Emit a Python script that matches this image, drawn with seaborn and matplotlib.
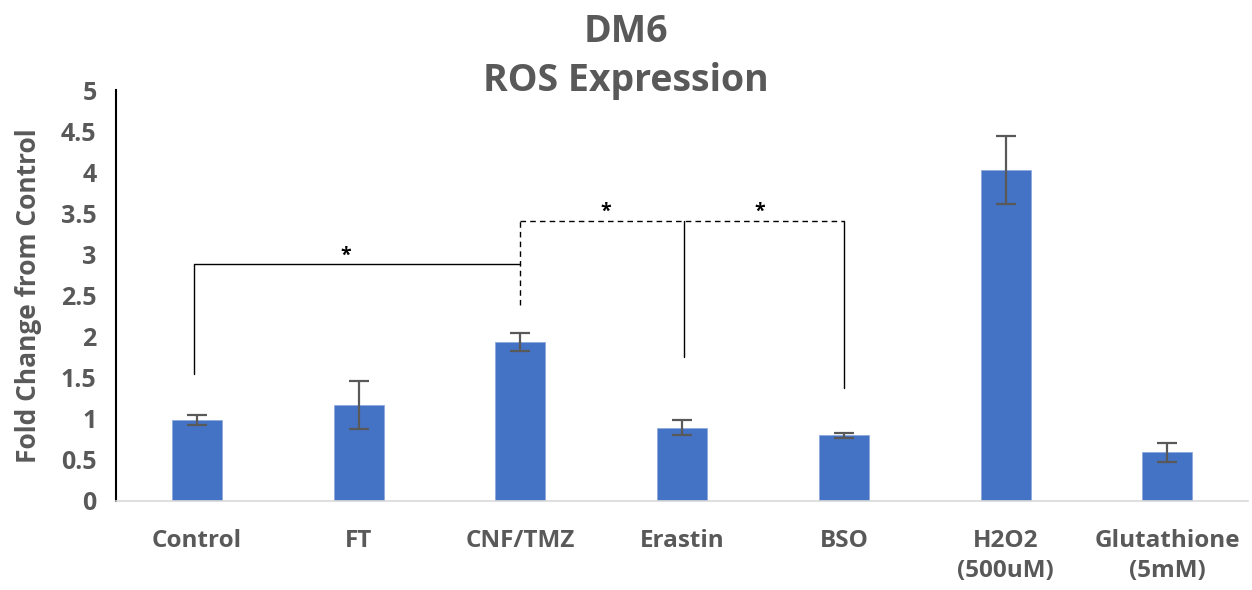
import matplotlib
matplotlib.use("Agg")
import matplotlib.pyplot as plt
import seaborn as sns
import numpy as np
import pandas as pd

categories = ["Control", "FT", "CNF/TMZ", "Erastin", "BSO", "H2O2\n(500uM)", "Glutathione\n(5mM)"]
values = [0.99, 1.17, 1.93, 0.89, 0.80, 4.03, 0.59]
errors = [0.06, 0.29, 0.11, 0.09, 0.03, 0.41, 0.12]

sns.set_style("white")
plt.rcParams['font.family'] = ['Open Sans', 'DejaVu Sans']
TXT = "#595959"

fig = plt.figure(figsize=(12.52, 5.90), dpi=100)
ax = fig.add_axes([0.0927, 0.151, 0.9043, 0.696])

df = pd.DataFrame({"cat": categories, "val": values})
sns.barplot(data=df, x="cat", y="val", color="#4472C4", saturation=1, width=0.31,
            edgecolor="#8FAADC", linewidth=0.6, ax=ax)
xs = np.arange(len(categories))
ax.errorbar(xs, values, yerr=errors, fmt="none", ecolor=TXT, elinewidth=1.6,
            capsize=7, capthick=1.6)

ax.set_xlim(-0.5, len(categories) - 0.5)
ax.set_ylim(0, 5)
ax.set_yticks(np.arange(0, 5.01, 0.5))
ax.set_yticklabels(["0", "0.5", "1", "1.5", "2", "2.5", "3", "3.5", "4", "4.5", "5"])
ax.set_xlabel("")
ax.set_ylabel("Fold Change from Control", fontsize=19, fontweight="bold", color=TXT, labelpad=14)
ax.tick_params(axis="y", length=0, labelsize=18, colors=TXT, pad=14)
ax.tick_params(axis="x", length=0, labelsize=17.5, colors=TXT, pad=20)
for lab in ax.get_xticklabels() + ax.get_yticklabels():
    lab.set_fontweight("bold")
    lab.set_linespacing(1.35)

for s in ["top", "right"]:
    ax.spines[s].set_visible(False)
ax.spines["left"].set_color("black")
ax.spines["left"].set_linewidth(1.5)
ax.spines["bottom"].set_color("#D9D9D9")
ax.spines["bottom"].set_linewidth(1.2)

fig.suptitle("DM6\nROS Expression", fontsize=27, fontweight="bold", color=TXT,
             y=0.978, linespacing=1.38)

# significance brackets
lw = 1.0
ax.plot([-0.02, -0.02, 2.0], [1.55, 2.88, 2.88], color="black", lw=lw)
ax.text(0.92, 2.98, "*", ha="center", va="center", fontsize=14, color="black", fontweight="bold")
ax.plot([2.0, 2.0], [2.39, 3.41], color="black", lw=lw, ls=(0, (4, 3)))
ax.plot([2.0, 4.0], [3.41, 3.41], color="black", lw=lw, ls=(0, (4, 3)))
ax.plot([3.01, 3.01], [3.41, 1.75], color="black", lw=lw)
ax.plot([4.0, 4.0], [3.41, 1.37], color="black", lw=lw)
ax.text(2.53, 3.52, "*", ha="center", va="center", fontsize=14, color="black", fontweight="bold")
ax.text(3.48, 3.52, "*", ha="center", va="center", fontsize=14, color="black", fontweight="bold")

fig.savefig("out.png", dpi=100)
